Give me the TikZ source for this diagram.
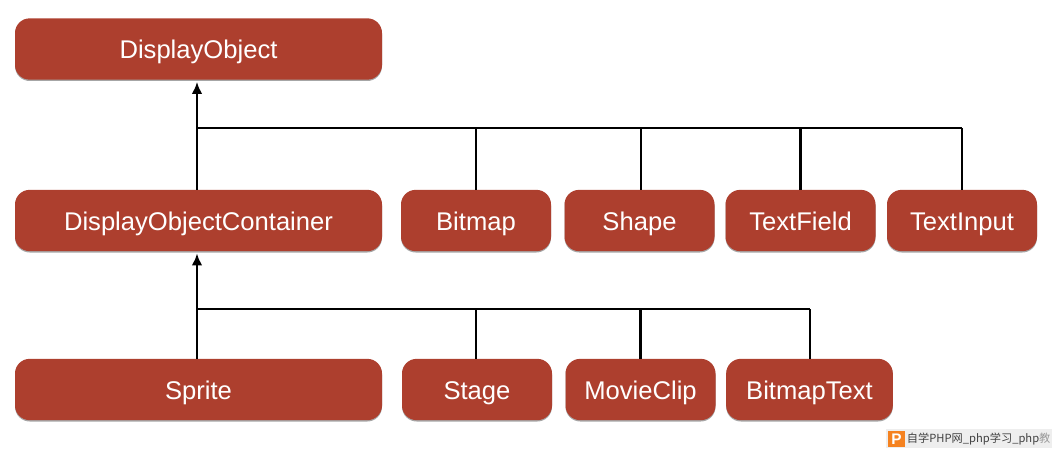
\documentclass[tikz,border=0pt]{standalone}
\usepackage{fontspec}
\setmainfont{Liberation Sans}
\newfontfamily\cjk{Noto Sans CJK SC}
\usepackage{xcolor}
\usetikzlibrary{positioning, shadows}
\usetikzlibrary{arrows.meta}
\definecolor{boxred}{HTML}{AD3F2E}
\definecolor{markbg}{HTML}{EEEEEE}
\definecolor{markorange}{HTML}{F58220}

\begin{document}
\begin{tikzpicture}[x=0.75pt,y=-0.75pt]
            \tikzset{cls/.style = {draw=none, fill=boxred, rounded corners=11pt, text=white, font=\fontsize{19.2}{22}\selectfont, text height=15pt, text depth=0pt, minimum height=46pt, inner sep=0pt, drop shadow={shadow xshift=0pt, shadow yshift=-1pt, opacity=.35, fill=black}}}
            \tikzset{wide/.style = {cls, minimum width=275.25pt}}
            \tikzset{small/.style = {cls, minimum width=112.5pt}}
            \tikzset{link/.style = {line width=1.7pt}}
            \tikzset{inherit/.style = {link, -{Latex[length=9pt,width=8pt]}, shorten >=1.5pt}}

            \useasboundingbox (0,0) rectangle (1057,453);

            \node[wide] (displayobject) at (198.5,49) {DisplayObject};

            \node[wide] (container) at (198.5,220.5) {DisplayObjectContainer};
            \node[small] (bitmap) at (476,220.5) {Bitmap};
            \node[small] (shape) at (639.5,220.5) {Shape};
            \node[small] (textfield) at (800.5,220.5) {TextField};
            \node[small] (textinput) at (962,220.5) {TextInput};

            \node[wide] (sprite) at (198.5,389.5) {Sprite};
            \node[small] (stage) at (477,389.5) {Stage};
            \node[small] (movieclip) at (640.5,389.5) {MovieClip};
            \node[small, minimum width=125pt] (bitmaptext) at (809.5,389.5) {BitmapText};

            % first level
            \coordinate (upleft) at (197,128);
            \coordinate (upright) at (962,128);
            \draw[inherit] (container.north -| upleft) -- (displayobject.south -| upleft);
            \draw[link] (upleft) -- (upright);
            \draw[link] (bitmap.north) -- (bitmap.north |- upleft);
            \draw[link] ([xshift=1pt]shape.north) -- ([xshift=1pt]shape.north |- upleft);
            \draw[link] (textfield.north) -- (textfield.north |- upleft);
            \draw[link] (textinput.north) -- (upright);

            % second level
            \coordinate (lowleft) at (197,309);
            \coordinate (lowright) at (810,309);
            \draw[inherit] (sprite.north -| lowleft) -- (container.south -| lowleft);
            \draw[link] (lowleft) -- (lowright);
            \draw[link] ([xshift=-.75pt]stage.north) -- ([xshift=-.75pt]stage.north |- lowleft);
            \draw[link] (movieclip.north) -- (movieclip.north |- lowleft);
            \draw[link] (bitmaptext.north -| lowright) -- (lowright);

            % watermark
            \node[fill=markbg, minimum width=124.5pt, minimum height=14.25pt, inner sep=0pt] (markbox) at (969,438.5) {};
            \node[fill=markorange, text=white, minimum size=12.5pt, inner sep=0pt, font=\bfseries\fontsize{11.5}{11.5}\selectfont] (markicon) at (896.5,439) {P};
            \node[right=1.2pt of markicon, inner sep=0pt, text=black!75, font=\cjk\fontsize{8.4}{10}\selectfont] (marktext) {自学PHP网\_php学习\_php\textcolor{black!40}{教}};
        \end{tikzpicture}
\end{document}
